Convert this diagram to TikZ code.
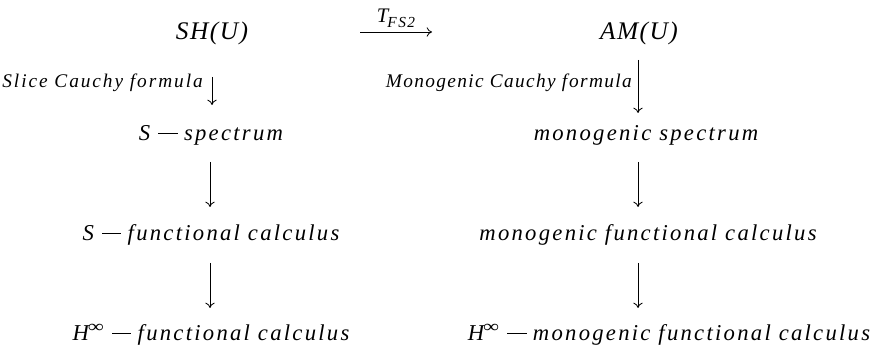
\documentclass[tikz,border=0pt]{standalone}
\usepackage{fontspec}
\usepackage{graphicx}
\setmainfont{Liberation Serif}[LetterSpace=10]
\usetikzlibrary{arrows.meta,calc}
\newcommand\fk{f\kern0.1em}
\newcommand\mn{\kern0.36em\raisebox{0.3em}{\rule{0.85em}{0.045em}}\kern0.28em}
\newcommand\Hinf{H\kern-0.05em\raisebox{0.36em}{\fontsize{13}{13}\selectfont\upshape\scalebox{1.3}[1]{∞}}}
\begin{document}
\begin{tikzpicture}[x=0.75pt,y=-0.75pt,
  lbl/.style={inner sep=0pt, anchor=base, font=\fontsize{17}{20}\selectfont\itshape},
  toplbl/.style={inner sep=0pt, anchor=base, font=\fontsize{19}{22}\selectfont\itshape\addfontfeature{LetterSpace=6}},
  side/.style={inner sep=0pt, anchor=base east, font=\fontsize{14.5}{17}\selectfont\itshape},
  arr/.style={line width=0.6pt, -{To[length=4pt,width=7pt]}}]
\useasboundingbox (0,0) rectangle (889,348);

\node[toplbl] (sh) at (212,40) {SH(U)};
\node[toplbl] (am) at (639,40) {AM(U)};
\node[lbl] (sp) at (211,141) {S\mn spectrum};
\node[lbl] (ms) at (646,141) {monogenic spectrum};
\node[lbl] (fc) at (211,241) {S\mn\fk unctional calculus};
\node[lbl] (mfc) at (648,241) {monogenic \fk unctional calculus};
\node[lbl] (hfc) at (211,341) {\Hinf\mn\fk unctional calculus};
\node[lbl] (hmfc) at (669,341) {\Hinf\mn monogenic \fk unctional calculus};

% horizontal arrow
\draw[arr] ($(sh.base)+(148,-8)$) -- node[above=7pt, anchor=base, inner sep=0pt, font=\itshape]
  {\fontsize{15.5}{18}\selectfont T\kern-0.05em\raisebox{-3.5pt}{\fontsize{11.5}{13}\selectfont FS2}}
  ($(am.base)+(-207,-8)$);

% left column
\node[side] (scf) at (203,88) {Slice Cauchy \fk ormula};
\draw[arr] ($(sh.base)+(0,37)$) -- ($(sp.base)+(1,-36)$);
\draw[arr] ($(sp.base)+(-1,21)$) -- ($(fc.base)+(-1,-34)$);
\draw[arr] ($(fc.base)+(-1,22)$) -- ($(hfc.base)+(-1,-33)$);

% right column
\node[side, font=\fontsize{14.5}{17}\selectfont\itshape\addfontfeature{LetterSpace=7}] (mcf) at (632,88) {Monogenic Cauchy \fk ormula};
\draw[arr] ($(am.base)+(-1,20)$) -- ($(ms.base)+(-8,-28)$);
\draw[arr] ($(ms.base)+(-8,21)$) -- ($(mfc.base)+(-10,-34)$);
\draw[arr] ($(mfc.base)+(-10,22)$) -- ($(hmfc.base)+(-31,-33)$);
\end{tikzpicture}
\end{document}
